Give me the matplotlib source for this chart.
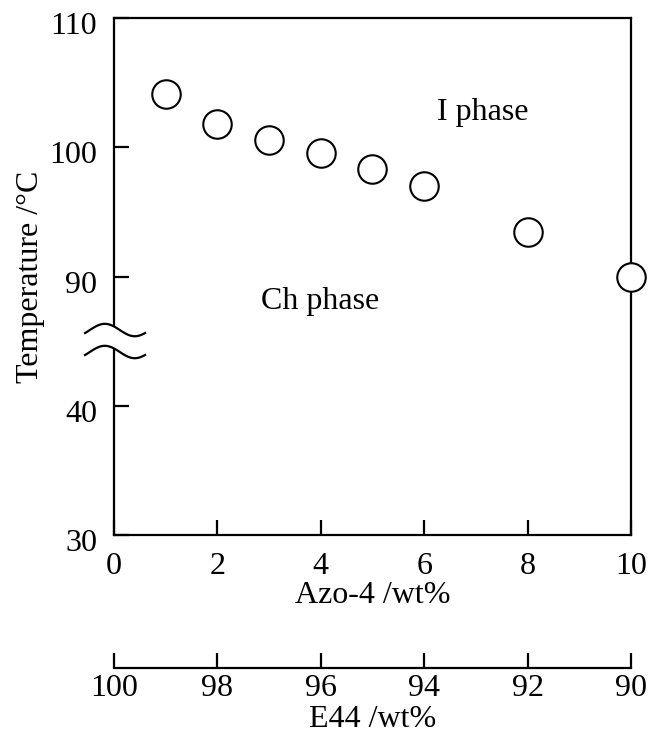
import numpy as np
import matplotlib
matplotlib.use('Agg')
import matplotlib.pyplot as plt
import matplotlib.transforms as mtrans

# Set rcParams
fontsz = 23
rcParams = {
    'font.family': 'serif',
    'font.serif': ['Liberation Serif', 'DejaVu Serif'],
    'font.size': fontsz,
    'axes.labelsize': fontsz,
    'xtick.labelsize': fontsz,
    'ytick.labelsize': fontsz,
    'axes.linewidth': 1.6,
    'xtick.direction': 'in',
    'ytick.direction': 'in',
    'xtick.major.size': 10.8,
    'ytick.major.size': 10.8,
    'xtick.major.width': 1.6,
    'ytick.major.width': 1.6,
}
plt.rcParams.update(rcParams)

# Data
azo_wt = [1, 2, 3, 4, 5, 6, 8, 10]
temp_ni = [104.1, 101.8, 100.6, 99.55, 98.3, 97.0, 93.45, 90.0]

xticks_azo = [0, 2, 4, 6, 8, 10]
xticks_e44 = [100, 98, 96, 94, 92, 90]
yticks = [30, 40, 90, 100, 110]


# broken y axis: 40..90 is squeezed into one tick interval
def fwd(y):
    y = np.asarray(y, dtype=float)
    return np.where(y <= 40, y, np.where(y >= 90, y - 40, 40 + (y - 40) * 0.2))


def inv(t):
    t = np.asarray(t, dtype=float)
    return np.where(t <= 40, t, np.where(t >= 50, t + 40, 40 + (t - 40) * 5))


fig = plt.figure(figsize=(6.48, 7.33), dpi=100)
ax = fig.add_axes([0.1759, 0.2701, 0.7978, 0.7053])
ax.set_yscale('function', functions=(fwd, inv))
ax.set_xlim(0, 10)
ax.set_ylim(30, 110)

ax.plot(azo_wt, temp_ni, linestyle='none', marker='o', markersize=20.5,
        markerfacecolor='white', markeredgecolor='black', markeredgewidth=1.5,
        clip_on=False, zorder=5)

ax.set_xticks(xticks_azo)
ax.set_yticks(yticks)
ax.set_yticklabels([str(v) for v in yticks])
ax.minorticks_off()
ax.tick_params(axis='x', pad=12)
ax.tick_params(axis='y', pad=12)
ax.set_xlabel('Azo-4 /wt%', labelpad=0)
ax.set_ylabel('Temperature /°C', labelpad=3)

# move y tick labels slightly down like the original
off = mtrans.ScaledTranslation(0, -5 / 100, fig.dpi_scale_trans)
for lab in ax.get_yticklabels():
    lab.set_transform(lab.get_transform() + off)

# phase labels
ax.text(0.714, 0.818, 'I phase', transform=ax.transAxes, ha='center', va='center')
ax.text(0.398, 0.452, 'Ch phase', transform=ax.transAxes, ha='center', va='center')

# axis break marks
t = np.linspace(0, 1, 60)
bx = -0.056 + t * 0.116
wave = 0.012 * np.sin(2 * np.pi * (t - 0.08))
top = 0.3965 + wave
bot = 0.354 + wave
ax.fill_between(bx, bot, top, color='white', transform=ax.transAxes,
                clip_on=False, zorder=6, linewidth=0)
ax.plot(bx, top, color='black', lw=1.6, transform=ax.transAxes, clip_on=False, zorder=7)
ax.plot(bx, bot, color='black', lw=1.6, transform=ax.transAxes, clip_on=False, zorder=7)

# second x axis for E44
ax2 = fig.add_axes([0.1759, 0.0887, 0.7978, 0.0001])
for s in ['top', 'left', 'right']:
    ax2.spines[s].set_visible(False)
ax2.set_xlim(100, 90)
ax2.set_xticks(xticks_e44)
ax2.set_yticks([])
ax2.tick_params(axis='x', pad=4.5)
ax2.set_xlabel('E44 /wt%', labelpad=1)
ax2.patch.set_visible(False)

fig.savefig('out.png', dpi=100)
